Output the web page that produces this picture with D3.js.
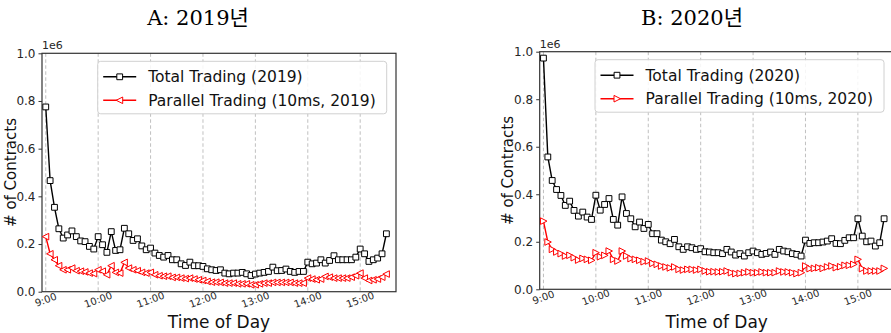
<!DOCTYPE html>
<html lang="ko">
  <head>
    <meta charset="UTF-8" />
    <title>Total vs Parallel Trading</title>
    <script src="https://d3js.org/d3.v7.min.js"></script>
    <style>
      html,
      body {
        margin: 0;
        padding: 0;
        background: #fff;
      }
      svg {
        display: block;
        font-family: "DejaVu Sans", sans-serif;
      }
      .title {
        font-family: "DejaVu Serif", "Liberation Serif", "Noto Sans CJK KR", serif;
        font-size: 21px;
      }
    </style>
  </head>
  <body>
    <svg id="chart" width="891" height="333"></svg>

    <script>
      // time of day, minutes after 9:00 (5 minute bins)
      const minutes = [
        0, 5, 10, 15, 20, 25, 30, 35, 40, 45, 50, 55,
        60, 65, 70, 75, 80, 85, 90, 95, 100, 105, 110, 115,
        120, 125, 130, 135, 140, 145, 150, 155, 160, 165, 170, 175,
        180, 185, 190, 195, 200, 205, 210, 215, 220, 225, 230, 235,
        240, 245, 250, 255, 260, 265, 270, 275, 280, 285, 290, 295,
        300, 305, 310, 315, 320, 325, 330, 335, 340, 345, 350, 355,
        360, 365, 370, 375, 380, 385, 390,
      ];

      // values in thousands of contracts
      const total2019 = [
        775, 466, 354, 264, 225, 238, 255, 231, 213, 210, 190, 179,
        231, 197, 165, 252, 173, 176, 266, 243, 215, 222, 192, 176,
        183, 162, 152, 145, 152, 134, 134, 117, 110, 124, 109, 109,
        106, 96, 92, 89, 92, 78, 75, 78, 78, 81, 75, 68,
        74, 78, 81, 85, 103, 88, 89, 95, 85, 81, 85, 85,
        124, 117, 120, 134, 120, 131, 151, 134, 134, 134, 134, 145,
        179, 159, 127, 134, 141, 159, 243,
      ];
      const parallel2019 = [
        231, 159, 134, 109, 92, 92, 99, 88, 86, 83, 78, 76,
        92, 86, 71, 109, 81, 78, 123, 99, 92, 88, 81, 78,
        81, 71, 67, 65, 65, 60, 60, 57, 55, 57, 53, 50,
        47, 43, 40, 40, 39, 36, 36, 36, 33, 33, 33, 29,
        29, 33, 36, 36, 39, 39, 39, 39, 39, 36, 36, 36,
        57, 53, 50, 53, 64, 61, 57, 57, 57, 57, 61, 67,
        78, 57, 47, 50, 53, 61, 74,
      ];
      const total2020 = [
        973, 557, 458, 420, 395, 353, 371, 332, 308, 325, 304, 294,
        396, 333, 357, 382, 294, 270, 389, 319, 297, 263, 283, 256,
        273, 234, 234, 207, 200, 192, 210, 179, 168, 179, 175, 168,
        171, 158, 157, 154, 154, 150, 168, 157, 144, 150, 140, 154,
        161, 154, 147, 151, 157, 147, 168, 161, 158, 150, 147, 140,
        207, 193, 196, 196, 199, 203, 213, 193, 192, 206, 217, 217,
        297, 224, 200, 203, 182, 196, 297,
      ];
      const parallel2020 = [
        287, 199, 168, 157, 150, 140, 143, 133, 123, 130, 126, 122,
        154, 137, 143, 161, 126, 119, 161, 140, 129, 126, 122, 116,
        119, 109, 105, 98, 94, 90, 94, 84, 81, 84, 84, 81,
        84, 77, 74, 74, 73, 74, 77, 70, 66, 67, 70, 73,
        70, 70, 73, 70, 70, 70, 77, 73, 73, 70, 66, 70,
        98, 87, 88, 91, 88, 94, 98, 91, 95, 101, 101, 105,
        126, 87, 77, 77, 77, 77, 88,
      ];

      const hourTicks = [0, 60, 120, 180, 240, 300, 360];
      const hourLabels = ["9:00", "10:00", "11:00", "12:00", "13:00", "14:00", "15:00"];
      const yTicks = [0, 0.2, 0.4, 0.6, 0.8, 1.0];

      const svg = d3.select("#chart");

      // one subplot
      function drawPanel(p) {
        const x = d3.scaleLinear().domain([-4.3, 401]).range([p.left, p.left + 354]);
        const y = d3.scaleLinear().domain([0, 1e6]).range([p.bottom, p.top]);

        const g = svg.append("g");

        // title
        svg
          .append("text")
          .attr("class", "title")
          .attr("x", p.titleX)
          .attr("y", 25)
          .attr("text-anchor", "middle")
          .text(p.title);

        // vertical dashed grid
        g.selectAll(".grid")
          .data(hourTicks)
          .enter()
          .append("line")
          .attr("x1", (d) => x(d))
          .attr("x2", (d) => x(d))
          .attr("y1", p.top)
          .attr("y2", p.bottom)
          .attr("stroke", "#b0b0b0")
          .attr("stroke-width", 0.8)
          .attr("stroke-dasharray", "3.5,2.5");

        // y axis
        const yAxis = g
          .append("g")
          .attr("transform", `translate(${p.left},0)`)
          .call(
            d3.axisLeft(y)
              .tickValues(yTicks.map((v) => v * 1e6))
              .tickFormat((d) => (d / 1e6).toFixed(1))
              .tickSize(3.5)
              .tickPadding(3)
          );
        yAxis.select(".domain").remove();
        yAxis.selectAll("text").attr("font-size", 12).attr("fill", "#262626").attr("font-family", "DejaVu Sans");
        yAxis.selectAll("line").attr("stroke", "#333");

        svg
          .append("text")
          .attr("x", p.left)
          .attr("y", p.top - 4)
          .attr("font-size", 11)
          .attr("fill", "#262626")
          .text("1e6");

        // x tick labels, rotated
        g.selectAll(".xt")
          .data(hourTicks)
          .enter()
          .append("text")
          .attr("transform", (d) => `translate(${x(d)},${p.bottom + 8}) rotate(-20)`)
          .attr("text-anchor", "middle")
          .attr("dominant-baseline", "central")
          .attr("font-size", 10)
          .attr("fill", "#262626")
          .text((d, i) => hourLabels[i]);

        // frame
        g.append("rect")
          .attr("x", p.left)
          .attr("y", p.top)
          .attr("width", 354)
          .attr("height", p.bottom - p.top)
          .attr("fill", "none")
          .attr("stroke", "#333")
          .attr("stroke-width", 1.2);

        // axis labels
        svg
          .append("text")
          .attr("transform", `translate(${p.left - 26.5},${(p.top + p.bottom) / 2}) rotate(-90)`)
          .attr("text-anchor", "middle")
          .attr("font-size", 15)
          .attr("fill", "#111")
          .text("# of Contracts");
        svg
          .append("text")
          .attr("x", p.left + 177)
          .attr("y", 328)
          .attr("text-anchor", "middle")
          .attr("font-size", 17)
          .attr("fill", "#111")
          .text("Time of Day");

        const line = d3
          .line()
          .x((d, i) => x(minutes[i]))
          .y((d) => y(d * 1000));

        const tri = p.pointRight ? "M-3,-3.3 L3.5,0 L-3,3.3 Z" : "M3,-3.3 L-3.5,0 L3,3.3 Z";

        // red series under black
        const series = [
          { values: p.parallel, color: "red", marker: "tri" },
          { values: p.total, color: "black", marker: "sq" },
        ];
        series.forEach((s) => {
          g.append("path")
            .attr("d", line(s.values))
            .attr("fill", "none")
            .attr("stroke", s.color)
            .attr("stroke-width", 1.4);
          g.selectAll(null)
            .data(s.values)
            .enter()
            .append("path")
            .attr("transform", (d, i) => `translate(${x(minutes[i])},${y(d * 1000)})`)
            .attr("d", s.marker === "sq" ? "M-2.9,-2.9 H2.9 V2.9 H-2.9 Z" : tri)
            .attr("fill", "white")
            .attr("stroke", s.color)
            .attr("stroke-width", 1);
        });

        // legend
        const lg = svg.append("g").attr("transform", `translate(${p.legendX},${p.top + 8})`);
        lg.append("rect")
          .attr("width", 289)
          .attr("height", 52.5)
          .attr("rx", 3)
          .attr("fill", "white")
          .attr("fill-opacity", 0.85)
          .attr("stroke", "#d0d0d0")
          .attr("stroke-width", 1);
        const items = [
          { label: p.labels[0], color: "black", marker: "M-2.9,-2.9 H2.9 V2.9 H-2.9 Z" },
          { label: p.labels[1], color: "red", marker: tri },
        ];
        items.forEach((it, i) => {
          const yy = 15.5 + i * 23.5;
          lg.append("line")
            .attr("x1", 5.5)
            .attr("x2", 38.5)
            .attr("y1", yy)
            .attr("y2", yy)
            .attr("stroke", it.color)
            .attr("stroke-width", 1.4);
          lg.append("path")
            .attr("transform", `translate(22,${yy})`)
            .attr("d", it.marker)
            .attr("fill", "white")
            .attr("stroke", it.color);
          lg.append("text")
            .attr("x", 50.5)
            .attr("y", yy + 5.5)
            .attr("font-size", 15.5)
            .attr("fill", "#111")
            .text(it.label);
        });
      }

      drawPanel({
        title: "A: 2019년",
        titleX: 198,
        left: 42,
        top: 53.3,
        bottom: 291.7,
        legendX: 97.7,
        total: total2019,
        parallel: parallel2019,
        pointRight: false,
        labels: ["Total Trading (2019)", "Parallel Trading (10ms, 2019)"],
      });

      drawPanel({
        title: "B: 2020년",
        titleX: 692,
        left: 539.7,
        top: 51.7,
        bottom: 289.3,
        legendX: 595,
        total: total2020,
        parallel: parallel2020,
        pointRight: true,
        labels: ["Total Trading (2020)", "Parallel Trading (10ms, 2020)"],
      });
    </script>
  </body>
</html>
